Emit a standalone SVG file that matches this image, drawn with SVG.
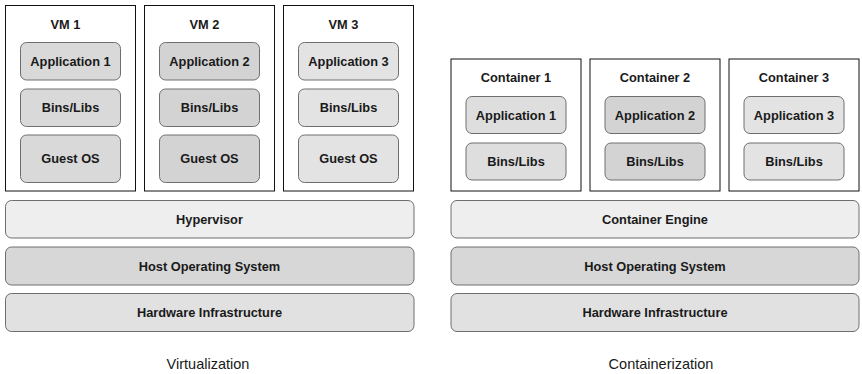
<svg xmlns="http://www.w3.org/2000/svg" width="862" height="374" viewBox="0 0 862 374">
<style>
.frame{fill:#ffffff;stroke:#111111;stroke-width:1}
.box{stroke:#6e6e6e;stroke-width:1}
.a{fill:#d9d9d9}
.b{fill:#d3d3d3}
.c{fill:#e3e3e3}
.d{fill:#dedede}
.hyp{fill:#eeeeee}
.host{fill:#d7d7d7}
.hw{fill:#e1e1e1}
text{font-family:"Liberation Sans",Arial,sans-serif;fill:#1a1a1a;text-anchor:middle}
.lbl{font-size:12.8px;font-weight:bold}
.cap{font-size:14.5px}
</style>
<rect width="862" height="374" fill="#ffffff"/>
<g id="connectors"></g>

<g id="vm1">
<rect class="frame" x="5.5" y="5.5" width="130" height="185.5"/>
<text class="lbl" x="65.5" y="28.5">VM 1</text>
<rect class="box a" x="20.5" y="42.5" width="100" height="37.5" rx="6"/>
<text class="lbl" x="70.5" y="65.8">Application 1</text>
<rect class="box a" x="20.5" y="89" width="100" height="37.5" rx="6"/>
<text class="lbl" x="70.5" y="112.3">Bins/Libs</text>
<rect class="box a" x="20.5" y="135" width="100" height="47.5" rx="6"/>
<text class="lbl" x="70.5" y="163.3">Guest OS</text>
</g>

<g id="vm2">
<rect class="frame" x="144.5" y="5.5" width="130" height="185.5"/>
<text class="lbl" x="204.5" y="28.5">VM 2</text>
<rect class="box b" x="159.5" y="42.5" width="100" height="37.5" rx="6"/>
<text class="lbl" x="209.5" y="65.8">Application 2</text>
<rect class="box b" x="159.5" y="89" width="100" height="37.5" rx="6"/>
<text class="lbl" x="209.5" y="112.3">Bins/Libs</text>
<rect class="box b" x="159.5" y="135" width="100" height="47.5" rx="6"/>
<text class="lbl" x="209.5" y="163.3">Guest OS</text>
</g>

<g id="vm3">
<rect class="frame" x="283.5" y="5.5" width="130" height="185.5"/>
<text class="lbl" x="343.5" y="28.5">VM 3</text>
<rect class="box c" x="298.5" y="42.5" width="100" height="37.5" rx="6"/>
<text class="lbl" x="348.5" y="65.8">Application 3</text>
<rect class="box c" x="298.5" y="89" width="100" height="37.5" rx="6"/>
<text class="lbl" x="348.5" y="112.3">Bins/Libs</text>
<rect class="box c" x="298.5" y="135" width="100" height="47.5" rx="6"/>
<text class="lbl" x="348.5" y="163.3">Guest OS</text>
</g>

<g id="container1">
<rect class="frame" x="451" y="59" width="130" height="132"/>
<text class="lbl" x="516" y="81.8">Container 1</text>
<rect class="box d" x="466" y="96.5" width="100" height="37" rx="6"/>
<text class="lbl" x="516" y="119.5">Application 1</text>
<rect class="box d" x="466" y="143" width="100" height="37" rx="6"/>
<text class="lbl" x="516" y="166">Bins/Libs</text>
</g>

<g id="container2">
<rect class="frame" x="590" y="59" width="130" height="132"/>
<text class="lbl" x="655" y="81.8">Container 2</text>
<rect class="box b" x="605" y="96.5" width="100" height="37" rx="6"/>
<text class="lbl" x="655" y="119.5">Application 2</text>
<rect class="box b" x="605" y="143" width="100" height="37" rx="6"/>
<text class="lbl" x="655" y="166">Bins/Libs</text>
</g>

<g id="container3">
<rect class="frame" x="729" y="59" width="130" height="132"/>
<text class="lbl" x="794" y="81.8">Container 3</text>
<rect class="box c" x="744" y="96.5" width="100" height="37" rx="6"/>
<text class="lbl" x="794" y="119.5">Application 3</text>
<rect class="box c" x="744" y="143" width="100" height="37" rx="6"/>
<text class="lbl" x="794" y="166">Bins/Libs</text>
</g>

<g id="hypervisor">
<rect class="box hyp" x="5.5" y="200.5" width="408.5" height="37.5" rx="6"/>
<text class="lbl" x="209.5" y="223.8">Hypervisor</text>
</g>
<g id="host-os-left">
<rect class="box host" x="5.5" y="247" width="408.5" height="38" rx="6"/>
<text class="lbl" x="209.5" y="270.5">Host Operating System</text>
</g>
<g id="hardware-left">
<rect class="box hw" x="5.5" y="293.5" width="408.5" height="38" rx="6"/>
<text class="lbl" x="209.5" y="317">Hardware Infrastructure</text>
</g>

<g id="container-engine">
<rect class="box hyp" x="451" y="200.5" width="408" height="37.5" rx="6"/>
<text class="lbl" x="655" y="223.8">Container Engine</text>
</g>
<g id="host-os-right">
<rect class="box host" x="451" y="247" width="408" height="38" rx="6"/>
<text class="lbl" x="655" y="270.5">Host Operating System</text>
</g>
<g id="hardware-right">
<rect class="box hw" x="451" y="293.5" width="408" height="38" rx="6"/>
<text class="lbl" x="655" y="317">Hardware Infrastructure</text>
</g>

<g id="captions">
<text class="cap" x="208" y="369">Virtualization</text>
<text class="cap" x="661" y="369">Containerization</text>
</g>
</svg>
